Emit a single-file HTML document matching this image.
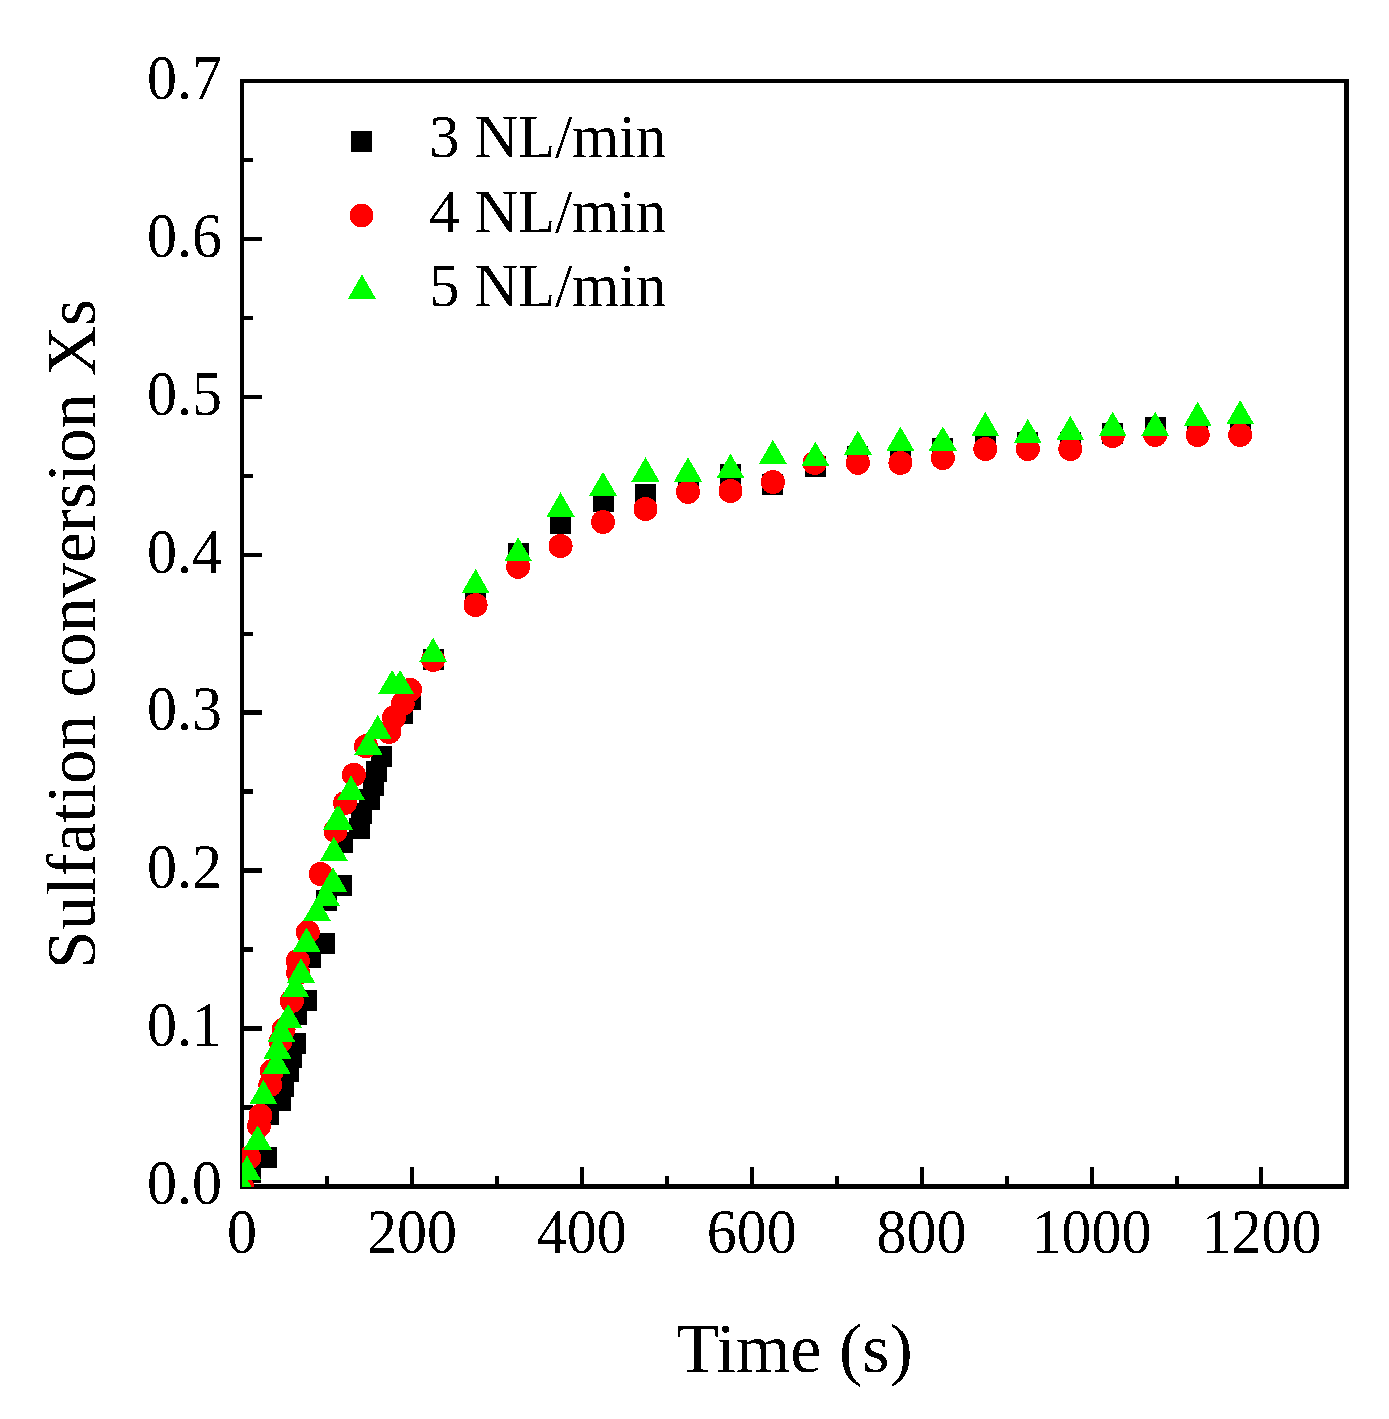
<!DOCTYPE html>
<html><head><meta charset="utf-8"><title>Sulfation conversion</title>
<style>
html,body{margin:0;padding:0;background:#fff;}
body{width:1389px;height:1419px;overflow:hidden;}
svg{display:block;}
text{font-family:"Liberation Serif",serif;fill:#000;}
</style></head>
<body>
<svg width="1389" height="1419" viewBox="0 0 1389 1419">
<rect x="0" y="0" width="1389" height="1419" fill="#fff"/>
<defs><filter id="bin" x="-5%" y="-5%" width="110%" height="110%" color-interpolation-filters="sRGB"><feComponentTransfer><feFuncA type="discrete" tableValues="0 0 1 1"/></feComponentTransfer></filter><clipPath id="plot"><rect x="242" y="81" width="1105" height="1106"/></clipPath></defs>
<!-- frame -->
<g fill="#000" shape-rendering="crispEdges">
<rect x="240" y="79" width="1109" height="4"/>
<rect x="240" y="1184" width="1109" height="5"/>
<rect x="240" y="79" width="4" height="1110"/>
<rect x="1344" y="79" width="5" height="1110"/>
<rect x="243" y="1184.25" width="19" height="4.5"/>
<rect x="243" y="1105.29" width="10" height="4.5"/>
<rect x="243" y="1026.32" width="19" height="4.5"/>
<rect x="243" y="947.36" width="10" height="4.5"/>
<rect x="243" y="868.39" width="19" height="4.5"/>
<rect x="243" y="789.42" width="10" height="4.5"/>
<rect x="243" y="710.46" width="19" height="4.5"/>
<rect x="243" y="631.50" width="10" height="4.5"/>
<rect x="243" y="552.53" width="19" height="4.5"/>
<rect x="243" y="473.57" width="10" height="4.5"/>
<rect x="243" y="394.60" width="19" height="4.5"/>
<rect x="243" y="315.63" width="10" height="4.5"/>
<rect x="243" y="236.67" width="19" height="4.5"/>
<rect x="243" y="157.70" width="10" height="4.5"/>
<rect x="243" y="78.74" width="19" height="4.5"/>
<rect x="240.0" y="1166.5" width="4" height="19"/>
<rect x="324.9" y="1175.5" width="4" height="10"/>
<rect x="409.9" y="1166.5" width="4" height="19"/>
<rect x="494.9" y="1175.5" width="4" height="10"/>
<rect x="579.8" y="1166.5" width="4" height="19"/>
<rect x="664.8" y="1175.5" width="4" height="10"/>
<rect x="749.7" y="1166.5" width="4" height="19"/>
<rect x="834.6" y="1175.5" width="4" height="10"/>
<rect x="919.6" y="1166.5" width="4" height="19"/>
<rect x="1004.6" y="1175.5" width="4" height="10"/>
<rect x="1089.5" y="1166.5" width="4" height="19"/>
<rect x="1174.5" y="1175.5" width="4" height="10"/>
<rect x="1259.4" y="1166.5" width="4" height="19"/>
<rect x="1344.4" y="1175.5" width="4" height="10"/>
</g>
<!-- data -->
<g clip-path="url(#plot)" shape-rendering="crispEdges">
<g fill="#000"><rect x="399.9" y="688.9" width="21.0" height="21.0"/>
<rect x="392.0" y="702.9" width="21.0" height="21.0"/>
<rect x="371.1" y="746.0" width="21.0" height="21.0"/>
<rect x="366.1" y="760.8" width="21.0" height="21.0"/>
<rect x="363.0" y="774.8" width="21.0" height="21.0"/>
<rect x="358.9" y="788.9" width="21.0" height="21.0"/>
<rect x="350.7" y="802.9" width="21.0" height="21.0"/>
<rect x="348.8" y="817.9" width="21.0" height="21.0"/>
<rect x="332.0" y="831.8" width="21.0" height="21.0"/>
<rect x="330.9" y="874.9" width="21.0" height="21.0"/>
<rect x="316.0" y="889.5" width="21.0" height="21.0"/>
<rect x="314.0" y="932.5" width="21.0" height="21.0"/>
<rect x="300.0" y="946.8" width="21.0" height="21.0"/>
<rect x="295.8" y="989.9" width="21.0" height="21.0"/>
<rect x="285.9" y="1003.7" width="21.0" height="21.0"/>
<rect x="285.0" y="1032.8" width="21.0" height="21.0"/>
<rect x="281.0" y="1046.5" width="21.0" height="21.0"/>
<rect x="277.9" y="1061.3" width="21.0" height="21.0"/>
<rect x="272.7" y="1075.5" width="21.0" height="21.0"/>
<rect x="269.9" y="1089.7" width="21.0" height="21.0"/>
<rect x="257.8" y="1103.6" width="21.0" height="21.0"/>
<rect x="256.0" y="1146.9" width="21.0" height="21.0"/>
<rect x="240.1" y="1161.7" width="21.0" height="21.0"/>
<rect x="231.5" y="1176.0" width="21.0" height="21.0"/>
<rect x="422.6" y="648.9" width="21.0" height="21.0"/>
<rect x="465.1" y="588.6" width="21.0" height="21.0"/>
<rect x="507.6" y="542.9" width="21.0" height="21.0"/>
<rect x="550.1" y="512.7" width="21.0" height="21.0"/>
<rect x="592.5" y="490.9" width="21.0" height="21.0"/>
<rect x="635.0" y="484.1" width="21.0" height="21.0"/>
<rect x="677.5" y="475.9" width="21.0" height="21.0"/>
<rect x="720.0" y="464.0" width="21.0" height="21.0"/>
<rect x="762.4" y="473.9" width="21.0" height="21.0"/>
<rect x="804.9" y="455.7" width="21.0" height="21.0"/>
<rect x="847.4" y="446.0" width="21.0" height="21.0"/>
<rect x="889.9" y="446.5" width="21.0" height="21.0"/>
<rect x="932.3" y="437.9" width="21.0" height="21.0"/>
<rect x="974.8" y="432.0" width="21.0" height="21.0"/>
<rect x="1017.3" y="431.7" width="21.0" height="21.0"/>
<rect x="1059.8" y="431.7" width="21.0" height="21.0"/>
<rect x="1102.2" y="422.8" width="21.0" height="21.0"/>
<rect x="1144.7" y="416.9" width="21.0" height="21.0"/>
<rect x="1187.2" y="420.0" width="21.0" height="21.0"/>
<rect x="1229.7" y="419.0" width="21.0" height="21.0"/></g>
<g fill="#ff0000"><circle cx="410.1" cy="689.9" r="12.0"/>
<circle cx="402.7" cy="704.0" r="12.0"/>
<circle cx="394.1" cy="717.5" r="12.0"/>
<circle cx="389.2" cy="732.0" r="12.0"/>
<circle cx="366.0" cy="746.2" r="12.0"/>
<circle cx="353.9" cy="774.8" r="12.0"/>
<circle cx="345.0" cy="803.0" r="12.0"/>
<circle cx="335.5" cy="831.0" r="12.0"/>
<circle cx="320.7" cy="874.0" r="12.0"/>
<circle cx="307.8" cy="932.2" r="12.0"/>
<circle cx="297.9" cy="960.9" r="12.0"/>
<circle cx="298.2" cy="972.8" r="12.0"/>
<circle cx="291.8" cy="1001.1" r="12.0"/>
<circle cx="283.6" cy="1029.5" r="12.0"/>
<circle cx="280.6" cy="1041.3" r="12.0"/>
<circle cx="271.9" cy="1071.2" r="12.0"/>
<circle cx="270.3" cy="1084.8" r="12.0"/>
<circle cx="260.5" cy="1115.6" r="12.0"/>
<circle cx="259.0" cy="1126.0" r="12.0"/>
<circle cx="249.2" cy="1157.8" r="12.0"/>
<circle cx="242.0" cy="1186.5" r="12.0"/>
<circle cx="433.1" cy="659.9" r="12.0"/>
<circle cx="475.6" cy="605.1" r="12.0"/>
<circle cx="518.1" cy="566.8" r="12.0"/>
<circle cx="560.6" cy="546.0" r="12.0"/>
<circle cx="603.0" cy="522.0" r="12.0"/>
<circle cx="645.5" cy="509.0" r="12.0"/>
<circle cx="688.0" cy="491.9" r="12.0"/>
<circle cx="730.5" cy="491.1" r="12.0"/>
<circle cx="772.9" cy="482.0" r="12.0"/>
<circle cx="814.6" cy="462.9" r="12.0"/>
<circle cx="857.9" cy="462.9" r="12.0"/>
<circle cx="900.4" cy="462.9" r="12.0"/>
<circle cx="942.8" cy="458.0" r="12.0"/>
<circle cx="985.3" cy="449.0" r="12.0"/>
<circle cx="1027.8" cy="449.0" r="12.0"/>
<circle cx="1070.3" cy="449.0" r="12.0"/>
<circle cx="1112.7" cy="436.0" r="12.0"/>
<circle cx="1155.2" cy="435.0" r="12.0"/>
<circle cx="1197.7" cy="435.0" r="12.0"/>
<circle cx="1240.2" cy="435.0" r="12.0"/></g>
<g fill="#00ff00"><polygon points="400.1,669.8 414.1,694.1 386.1,694.1"/>
<polygon points="392.1,669.8 406.1,694.1 378.1,694.1"/>
<polygon points="377.7,714.8 391.7,739.1 363.7,739.1"/>
<polygon points="368.4,730.2 382.4,754.5 354.4,754.5"/>
<polygon points="351.0,775.6 365.0,799.9 337.0,799.9"/>
<polygon points="337.1,805.5 351.1,829.8 323.1,829.8"/>
<polygon points="339.1,805.5 353.1,829.8 325.1,829.8"/>
<polygon points="333.9,836.8 347.9,861.1 319.9,861.1"/>
<polygon points="333.0,867.2 347.0,891.5 319.0,891.5"/>
<polygon points="325.9,881.4 339.9,905.7 311.9,905.7"/>
<polygon points="317.0,896.8 331.0,921.1 303.0,921.1"/>
<polygon points="306.6,927.4 320.6,951.7 292.6,951.7"/>
<polygon points="301.0,958.3 315.0,982.6 287.0,982.6"/>
<polygon points="295.4,973.0 309.4,997.3 281.4,997.3"/>
<polygon points="288.1,1003.8 302.1,1028.1 274.1,1028.1"/>
<polygon points="281.5,1017.8 295.5,1042.1 267.5,1042.1"/>
<polygon points="277.5,1034.4 291.5,1058.7 263.5,1058.7"/>
<polygon points="276.5,1049.2 290.5,1073.5 262.5,1073.5"/>
<polygon points="263.4,1079.8 277.4,1104.1 249.4,1104.1"/>
<polygon points="257.7,1125.2 271.7,1149.5 243.7,1149.5"/>
<polygon points="247.0,1155.6 261.0,1179.9 233.0,1179.9"/>
<polygon points="242.0,1170.3 256.0,1194.6 228.0,1194.6"/>
<polygon points="433.1,637.7 447.1,662.0 419.1,662.0"/>
<polygon points="475.6,568.9 489.6,593.2 461.6,593.2"/>
<polygon points="518.1,537.1 532.1,561.4 504.1,561.4"/>
<polygon points="560.6,492.3 574.6,516.6 546.6,516.6"/>
<polygon points="603.0,471.7 617.0,496.0 589.0,496.0"/>
<polygon points="645.5,457.2 659.5,481.5 631.5,481.5"/>
<polygon points="688.0,457.2 702.0,481.5 674.0,481.5"/>
<polygon points="730.5,453.7 744.5,478.0 716.5,478.0"/>
<polygon points="772.9,439.7 786.9,464.0 758.9,464.0"/>
<polygon points="815.4,441.7 829.4,466.0 801.4,466.0"/>
<polygon points="857.9,430.6 871.9,454.9 843.9,454.9"/>
<polygon points="900.4,426.6 914.4,450.9 886.4,450.9"/>
<polygon points="942.8,426.3 956.8,450.6 928.8,450.6"/>
<polygon points="985.3,411.8 999.3,436.1 971.3,436.1"/>
<polygon points="1027.8,418.8 1041.8,443.1 1013.8,443.1"/>
<polygon points="1070.3,415.8 1084.3,440.1 1056.3,440.1"/>
<polygon points="1112.7,411.7 1126.7,436.0 1098.7,436.0"/>
<polygon points="1155.2,411.7 1169.2,436.0 1141.2,436.0"/>
<polygon points="1197.7,401.7 1211.7,426.0 1183.7,426.0"/>
<polygon points="1240.2,400.1 1254.2,424.4 1226.2,424.4"/></g>
</g>
<!-- tick labels -->
<g filter="url(#bin)">
<g font-size="60">
<text transform="translate(222,1204.2) scale(1,1.045)" text-anchor="end">0.0</text>
<text transform="translate(222,1046.3) scale(1,1.045)" text-anchor="end">0.1</text>
<text transform="translate(222,888.3) scale(1,1.045)" text-anchor="end">0.2</text>
<text transform="translate(222,730.4) scale(1,1.045)" text-anchor="end">0.3</text>
<text transform="translate(222,572.5) scale(1,1.045)" text-anchor="end">0.4</text>
<text transform="translate(222,414.6) scale(1,1.045)" text-anchor="end">0.5</text>
<text transform="translate(222,256.6) scale(1,1.045)" text-anchor="end">0.6</text>
<text transform="translate(222,98.7) scale(1,1.045)" text-anchor="end">0.7</text>
<text transform="translate(242.0,1253.2) scale(1,1.045)" text-anchor="middle">0</text>
<text transform="translate(411.9,1253.2) scale(1,1.045)" text-anchor="middle">200</text>
<text transform="translate(581.8,1253.2) scale(1,1.045)" text-anchor="middle">400</text>
<text transform="translate(751.7,1253.2) scale(1,1.045)" text-anchor="middle">600</text>
<text transform="translate(921.6,1253.2) scale(1,1.045)" text-anchor="middle">800</text>
<text transform="translate(1091.5,1253.2) scale(1,1.045)" text-anchor="middle">1000</text>
<text transform="translate(1261.4,1253.2) scale(1,1.045)" text-anchor="middle">1200</text>
</g>
<!-- axis titles -->
<text x="794.5" y="1372" font-size="70" text-anchor="middle">Time (s)</text>
<text transform="translate(95,634.2) rotate(-90)" font-size="69.3" text-anchor="middle">Sulfation conversion Xs</text>
<!-- legend -->
<g shape-rendering="crispEdges">
<rect x="351" y="131" width="21" height="21" fill="#000"/>
<circle cx="361.6" cy="215.5" r="11.9" fill="#ff0000"/>
<polygon points="361.9,274.4 376,299 347.8,299" fill="#00ff00"/>
</g>
<g font-size="60.5">
<text x="429.2" y="157.1">3 NL/min</text>
<text x="429.2" y="231.6">4 NL/min</text>
<text x="429.2" y="306.1">5 NL/min</text>
</g>
</g>
</svg>
</body></html>
